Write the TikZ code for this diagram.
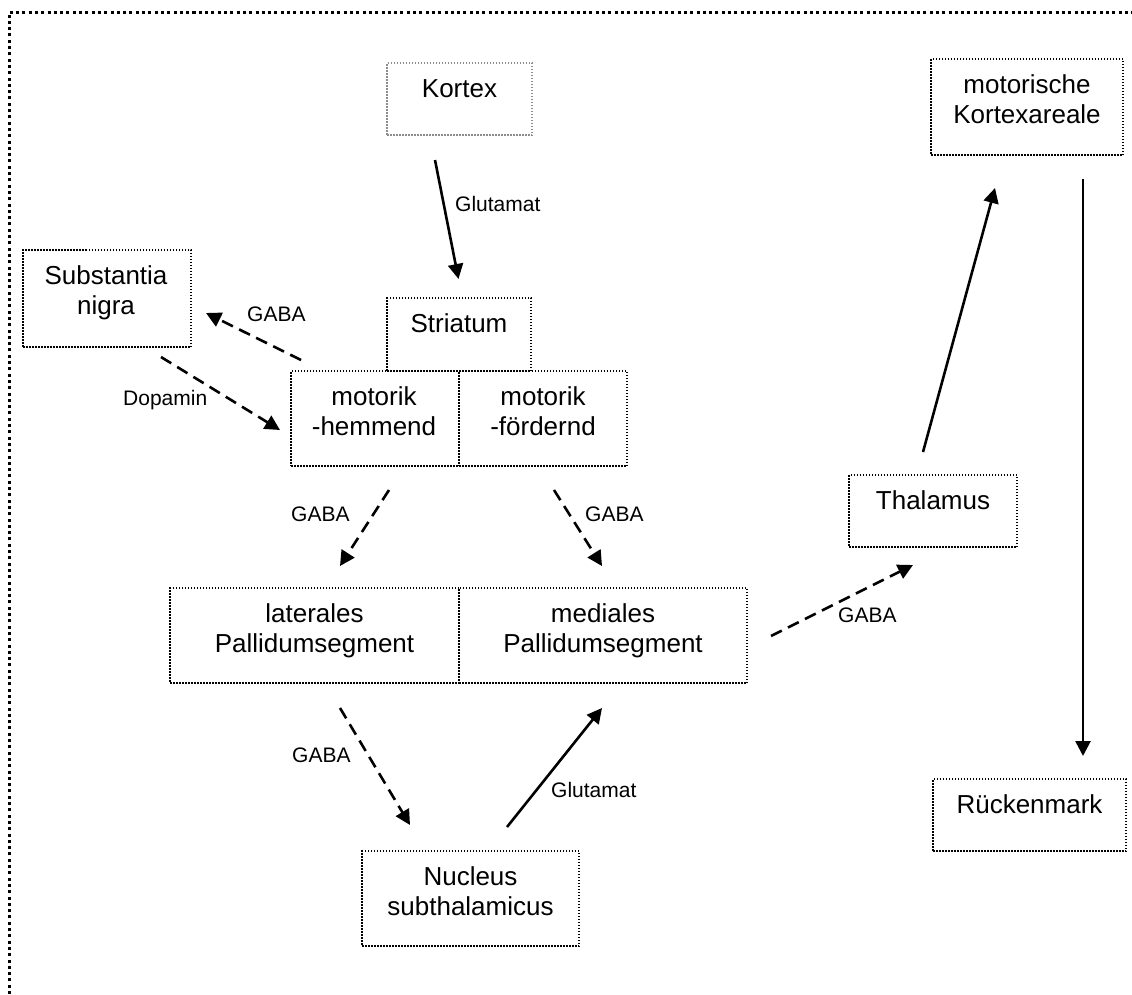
\documentclass[tikz,border=0pt]{standalone}
\usepackage{fontspec}
\setmainfont{Liberation Sans}
\usetikzlibrary{arrows.meta,calc}

\begin{document}
\begin{tikzpicture}[x=1pt,y=-1pt,
  box/.style={draw=black, line width=1.5pt, dash pattern=on 1.5pt off 1.5pt, inner sep=0pt},
  softbox/.style={box, draw=black!45},
  boxtext/.style={inner sep=0pt, anchor=base, align=center, font=\fontsize{26}{30}\selectfont},
  lbl/.style={inner sep=0pt, anchor=base west, font=\fontsize{21}{24}\selectfont},
  link/.style={line width=2.6pt, -{Triangle[length=15pt,width=15pt]}},
  dlink/.style={link, dash pattern=on 12pt off 7pt},
  frame/.style={line width=3pt, dash pattern=on 3pt off 3.3pt}]

\useasboundingbox (0,0) rectangle (1132,994);

% partial page frame
\draw[frame] (9,994) -- (9,12) -- (1132,12);

% boxes
\node[softbox, minimum width=145pt, minimum height=72pt] (kortex)     at (459.5,99)   {};
\node[box, minimum width=144pt, minimum height=73pt] (striatum)       at (459,334.5)  {};
\node[box, minimum width=168pt, minimum height=95pt] (hemmend)        at (375,418.5)  {};
\node[box, minimum width=168pt, minimum height=95pt] (foerdernd)      at (543,418.5)  {};
\node[box, minimum width=168pt, minimum height=97pt] (nigra)          at (107,298.5)  {};
\node[box, minimum width=289pt, minimum height=95pt] (lateral)        at (314.5,635.5){};
\node[box, minimum width=288pt, minimum height=95pt] (medial)         at (603,635.5)  {};
\node[box, minimum width=217pt, minimum height=95pt] (nucleus)        at (470.5,898.5){};
\node[box, minimum width=168pt, minimum height=72pt] (thalamus)       at (933,511)    {};
\node[box, minimum width=192pt, minimum height=96pt] (motorkortex)    at (1027,107)   {};
\node[box, minimum width=193pt, minimum height=72pt] (rueckenmark)    at (1029.5,815) {};

% box texts (anchored on the baseline of their last line)
\node[boxtext] (kortex-t)      at ($(kortex.north)+(0,35)$)        {Kortex};
\node[boxtext] (striatum-t)    at ($(striatum.north)+(0,35.5)$)    {Striatum};
\node[boxtext] (hemmend-t)     at ($(hemmend.north)+(-1,65.5)$)    {motorik\\-hemmend};
\node[boxtext] (foerdernd-t)   at ($(foerdernd.north)+(0,65.5)$)   {motorik\\-fördernd};
\node[boxtext] (nigra-t)       at ($(nigra.north)+(-1,65)$)        {Substantia\\nigra};
\node[boxtext] (lateral-t)     at ($(lateral.north)+(0,65.5)$)     {laterales\\Pallidumsegment};
\node[boxtext] (medial-t)      at ($(medial.north)+(0,65.5)$)      {mediales\\Pallidumsegment};
\node[boxtext] (nucleus-t)     at ($(nucleus.north)+(0,65.5)$)     {Nucleus\\subthalamicus};
\node[boxtext] (thalamus-t)    at ($(thalamus.north)+(0,35.5)$)    {Thalamus};
\node[boxtext] (motorkortex-t) at ($(motorkortex.north)+(0,65)$)   {motorische\\Kortexareale};
\node[boxtext] (rueckenmark-t) at ($(rueckenmark.north)+(0,35.5)$) {Rückenmark};

% connector end points
\coordinate (k-s)  at (435,160);   \coordinate (k-e)  at (458.5,279);
\coordinate (sn-s) at (301,360);   \coordinate (sn-e) at (206,313);
\coordinate (da-s) at (161,357);   \coordinate (da-e) at (280,430);
\coordinate (hl-s) at (389,490);   \coordinate (hl-e) at (340,566);
\coordinate (fm-s) at (554,490);   \coordinate (fm-e) at (602,566);
\coordinate (mt-s) at (771,636);   \coordinate (mt-e) at (913,565);
\coordinate (ln-s) at (340,708);   \coordinate (ln-e) at (410,825);
\coordinate (nm-s) at (507,827);   \coordinate (nm-e) at (602,708);
\coordinate (tm-s) at (923,452);   \coordinate (tm-e) at (995,188);
\coordinate (mr-s) at (1083,179);  \coordinate (mr-e) at (1083,756);

% connectors
\draw[link]  (k-s)  -- (k-e);
\draw[dlink] (sn-s) -- (sn-e);
\draw[dlink] (da-s) -- (da-e);
\draw[dlink] (hl-s) -- (hl-e);
\draw[dlink] (fm-s) -- (fm-e);
\draw[dlink] (mt-s) -- (mt-e);
\draw[dlink] (ln-s) -- (ln-e);
\draw[link]  (nm-s) -- (nm-e);
\draw[link]  (tm-s) -- (tm-e);
\draw[link]  (mr-s) -- (mr-e);

% transmitter labels
\node[lbl] (l-glu1)  at (455,211.7) {Glutamat};
\node[lbl] (l-gaba1) at (247,321.7) {GABA};
\node[lbl] (l-dopa)  at (123,405)   {Dopamin};
\node[lbl] (l-gaba2) at (291,521)   {GABA};
\node[lbl] (l-gaba3) at (585,521)   {GABA};
\node[lbl] (l-gaba4) at (838,622.7) {GABA};
\node[lbl] (l-gaba5) at (292,762)   {GABA};
\node[lbl] (l-glu2)  at (551,797.7) {Glutamat};
\end{tikzpicture}
\end{document}
